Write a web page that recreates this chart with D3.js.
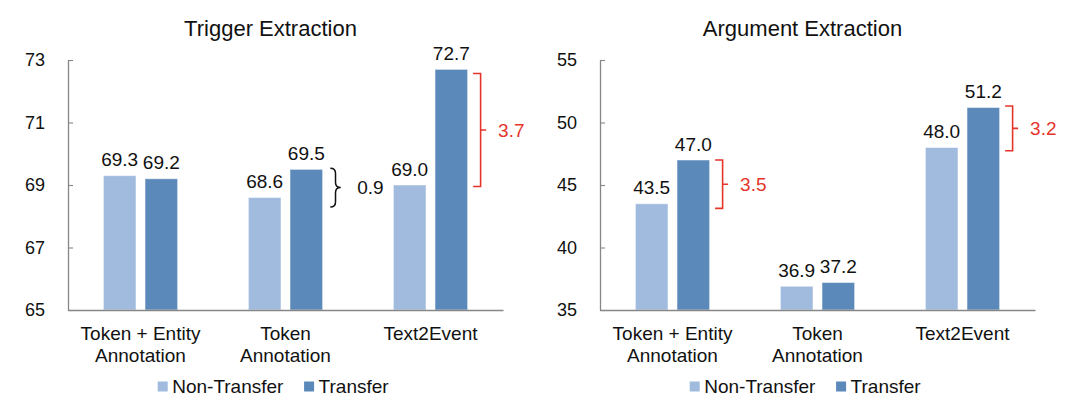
<!DOCTYPE html>
<html>
<head>
<meta charset="utf-8">
<script src="https://cdn.jsdelivr.net/npm/d3@7"></script>
<style>
  html, body { margin: 0; padding: 0; background: #fff; }
  svg { display: block; font-family: "Liberation Sans", Arial, Helvetica, sans-serif; }
</style>
</head>
<body>
<svg id="chart" width="1080" height="413"></svg>
<script>
// ---------- data ----------
const categories = [["Token + Entity", "Annotation"], ["Token", "Annotation"], ["Text2Event"]];
const seriesNames = ["Non-Transfer", "Transfer"];

const triggerTitle = "Trigger Extraction";
const triggerNonTransfer = [69.3, 68.6, 69.0];
const triggerTransfer = [69.2, 69.5, 72.7];
const triggerTicks = [65, 67, 69, 71, 73];
const triggerDomain = [65, 73];
// annotation spans (value units) with their labels
const triggerNotes = [
  { cat: 1, hi: 69.54, lo: 68.3, label: "0.9", kind: "brace" },
  { cat: 2, hi: 72.57, lo: 68.95, label: "3.7", kind: "bracket" }
];

const argumentTitle = "Argument Extraction";
const argumentNonTransfer = [43.5, 36.9, 48.0];
const argumentTransfer = [47.0, 37.2, 51.2];
const argumentTicks = [35, 40, 45, 50, 55];
const argumentDomain = [35, 55];
const argumentNotes = [
  { cat: 0, hi: 47.0, lo: 43.13, label: "3.5", kind: "bracket" },
  { cat: 2, hi: 51.32, lo: 47.74, label: "3.2", kind: "bracket" }
];

// ---------- style ----------
const colors = ["#a0bbdd", "#5b89b9"];
const red = "#e5352b";
const axisColor = "#878787";
const textColor = "#111111";

const svg = d3.select("#chart");

function drawPanel(opt) {
  const { x0, x1, yTop, yBottom, title, nonTransfer, transfer, ticks, domain, notes } = opt;
  const g = svg.append("g");

  const y = d3.scaleLinear().domain(domain).range([yBottom, yTop]);
  const x = d3.scaleBand().domain(d3.range(categories.length)).range([x0, x1]).paddingInner(0).paddingOuter(0);
  const xs = d3.scaleBand().domain(d3.range(seriesNames.length)).range([0, x.bandwidth()])
    .paddingInner(0.217).paddingOuter(0.85);

  const rows = categories.map((c, i) => ({ i, vals: [nonTransfer[i], transfer[i]] }));

  // bars
  const grp = g.selectAll("g.cat").data(rows).join("g").attr("transform", d => `translate(${x(d.i)},0)`);
  grp.selectAll("rect").data(d => d.vals.map((v, s) => ({ v, s })))
    .join("rect")
    .attr("x", d => xs(d.s))
    .attr("width", xs.bandwidth())
    .attr("y", d => y(d.v))
    .attr("height", d => y(domain[0]) - y(d.v))
    .attr("fill", d => colors[d.s])
    .attr("stroke", "#ffffff")
    .attr("stroke-opacity", 0.5)
    .attr("stroke-width", 1);

  // value labels
  grp.selectAll("text.val").data(d => d.vals.map((v, s) => ({ v, s })))
    .join("text")
    .attr("class", "val")
    .attr("x", d => xs(d.s) + xs.bandwidth() / 2)
    .attr("y", d => y(d.v) - 9.5)
    .attr("text-anchor", "middle")
    .attr("font-size", 19)
    .attr("fill", textColor)
    .text(d => d.v.toFixed(1));

  // y axis
  const yAxis = d3.axisLeft(y).tickValues(ticks).tickSize(-5).tickPadding(23).tickSizeOuter(0);
  const ya = g.append("g").attr("transform", `translate(${x0},0)`).call(yAxis);
  ya.select(".domain").attr("stroke", axisColor).attr("stroke-width", 1.3);
  ya.selectAll(".tick line").attr("stroke", axisColor).attr("stroke-width", 1.1);
  ya.selectAll(".tick text").attr("font-size", 18).attr("fill", textColor)
    .attr("font-family", "Liberation Sans, Arial, sans-serif");

  // x axis (baseline without ticks)
  const xAxis = d3.axisBottom(x).tickSize(0).tickSizeOuter(0).tickFormat("");
  const xa = g.append("g").attr("transform", `translate(0,${yBottom})`).call(xAxis);
  xa.select(".domain").attr("stroke", axisColor).attr("stroke-width", 1.6);
  xa.selectAll(".tick").remove();

  // category labels
  const cl = g.selectAll("text.cat").data(categories).join("text")
    .attr("class", "cat")
    .attr("text-anchor", "middle")
    .attr("font-size", 19)
    .attr("fill", textColor);
  cl.each(function (lines, i) {
    d3.select(this).selectAll("tspan").data(lines).join("tspan")
      .attr("x", x(i) + x.bandwidth() / 2)
      .attr("y", (l, j) => yBottom + 29.5 + j * 22)
      .text(l => l);
  });

  // title
  const cx = (x0 + x1) / 2;
  g.append("text").attr("x", cx - 15).attr("y", 36).attr("text-anchor", "middle")
    .attr("font-size", 22).attr("fill", textColor).text(title);

  // legend
  const legend = g.append("g");
  const items = legend.selectAll("g").data(seriesNames).join("g");
  items.append("rect").attr("width", 10).attr("height", 10).attr("y", 381.5).attr("fill", (d, i) => colors[i]);
  items.append("text").attr("x", 14.5).attr("y", 393).attr("font-size", 19).attr("fill", textColor).text(d => d);
  let off = 0;
  items.each(function () {
    d3.select(this).attr("transform", `translate(${off},0)`);
    off += this.getBBox().width + 20;
  });
  const legW = off - 20;
  legend.attr("transform", `translate(${cx - 12 - legW / 2},0)`);

  // annotations
  notes.forEach(n => {
    const barRight = x(n.cat) + xs(1) + xs.bandwidth();
    const top = y(n.hi), bot = y(n.lo), mid = (top + bot) / 2;
    if (n.kind === "brace") {
      const a = barRight + 7.7, b = a + 10.4, m = (a + b) / 2, r = 5;
      const p = d3.path();
      p.moveTo(a, top);
      p.quadraticCurveTo(m, top, m, top + r);
      p.lineTo(m, mid - r);
      p.quadraticCurveTo(m, mid, b, mid);
      p.quadraticCurveTo(m, mid, m, mid + r);
      p.lineTo(m, bot - r);
      p.quadraticCurveTo(m, bot, a, bot);
      g.append("path").attr("d", p.toString()).attr("fill", "none")
        .attr("stroke", textColor).attr("stroke-width", 1.5);
      g.append("text").attr("x", b + 16.5).attr("y", mid + 6.5).attr("font-size", 19)
        .attr("fill", textColor).text(n.label);
    } else {
      const a = barRight + 5.5, v = a + 7.5, t = v + 5.5;
      const p = d3.path();
      p.moveTo(a, top); p.lineTo(v, top); p.lineTo(v, bot); p.lineTo(a, bot);
      p.moveTo(v, mid); p.lineTo(t, mid);
      g.append("path").attr("d", p.toString()).attr("fill", "none")
        .attr("stroke", red).attr("stroke-width", 1.6);
      g.append("text").attr("x", t + 12).attr("y", mid + 6.5).attr("font-size", 19)
        .attr("fill", red).text(n.label);
    }
  });
}

drawPanel({ x0: 68, x1: 503, yTop: 60, yBottom: 310, title: triggerTitle,
  nonTransfer: triggerNonTransfer, transfer: triggerTransfer, ticks: triggerTicks,
  domain: triggerDomain, notes: triggerNotes });
drawPanel({ x0: 600, x1: 1035, yTop: 60, yBottom: 310, title: argumentTitle,
  nonTransfer: argumentNonTransfer, transfer: argumentTransfer, ticks: argumentTicks,
  domain: argumentDomain, notes: argumentNotes });
</script>
</body>
</html>
